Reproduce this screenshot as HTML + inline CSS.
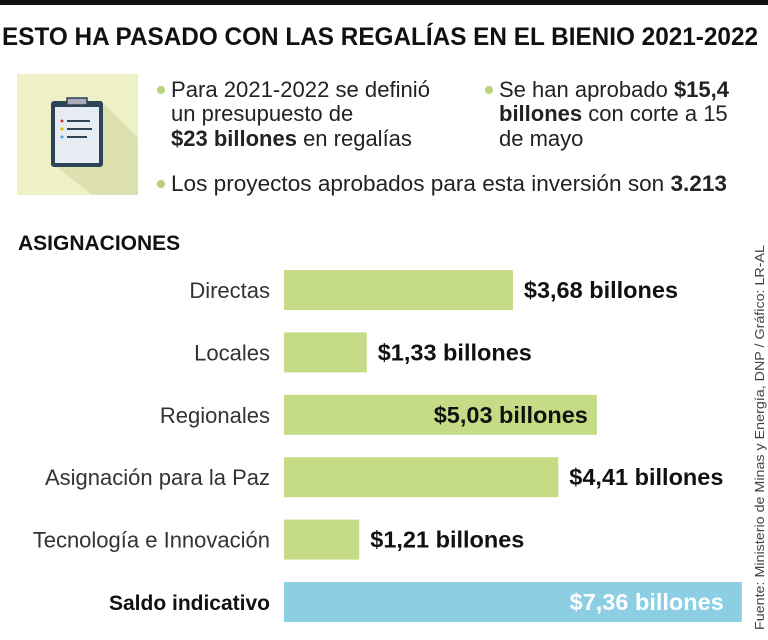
<!DOCTYPE html>
<html><head><meta charset="utf-8"><style>
html,body{margin:0;padding:0;background:#fff;width:768px;height:640px;overflow:hidden}
svg{display:block;font-family:"Liberation Sans",sans-serif}
</style></head><body>
<svg id="chart" width="768" height="640" viewBox="0 0 768 640">
<rect x="0" y="0" width="768" height="5" fill="#111"/>
<text x="2" y="45" font-size="25" font-weight="bold" fill="#111" textLength="756" lengthAdjust="spacingAndGlyphs">ESTO HA PASADO CON LAS REGALÍAS EN EL BIENIO 2021-2022</text>
<g>
<rect x="17" y="74" width="121" height="121" fill="#eef0c8"/>
<polygon points="100,100 138,138 138,195 92,195 55,165" fill="#dde1b0"/>
<rect x="51" y="101" width="52" height="66" rx="3" fill="#2c4358"/>
<rect x="55" y="107" width="44" height="56" fill="#e6ecf2"/>
<rect x="67" y="98" width="20" height="7" fill="#aab" stroke="#2c4358" stroke-width="1.5"/>
<circle cx="62" cy="121" r="1.5" fill="#d33"/><rect x="67" y="120" width="23" height="2" fill="#2c4358"/>
<circle cx="62" cy="129" r="1.5" fill="#e8b800"/><rect x="67" y="128" width="25" height="2" fill="#2c4358"/>
<circle cx="62" cy="137" r="1.5" fill="#5a9ad0"/><rect x="67" y="136" width="20" height="2" fill="#2c4358"/>
</g>
<g font-size="22" fill="#222">
<circle cx="161" cy="90" r="4" fill="#b6d27a"/>
<text x="171" y="97" textLength="259" lengthAdjust="spacingAndGlyphs">Para 2021-2022 se definió</text>
<text x="171" y="121">un presupuesto de</text>
<text x="171" y="146"><tspan font-weight="bold">$23 billones</tspan> en regalías</text>
<circle cx="489" cy="90" r="4" fill="#b6d27a"/>
<text x="499" y="97">Se han aprobado <tspan font-weight="bold">$15,4</tspan></text>
<text x="499" y="121"><tspan font-weight="bold">billones</tspan> con corte a 15</text>
<text x="499" y="146">de mayo</text>
<circle cx="161" cy="184" r="4" fill="#b6d27a"/>
<text x="171" y="191" textLength="556" lengthAdjust="spacingAndGlyphs">Los proyectos aprobados para esta inversión son <tspan font-weight="bold">3.213</tspan></text>
</g>
<text x="18" y="250" font-size="21" font-weight="bold" fill="#111">ASIGNACIONES</text>
<g id="bars"></g>
<text transform="translate(764,630) rotate(-90)" font-size="13" fill="#444" textLength="385" lengthAdjust="spacingAndGlyphs">Fuente: Ministerio de Minas y Energía, DNP / Gráfico: LR-AL</text>
</svg>
<script>
const categories = ["Directas","Locales","Regionales","Asignación para la Paz","Tecnología e Innovación","Saldo indicativo"];
const values = [3.68,1.33,5.03,4.41,1.21,7.36];
const valueLabels = ["$3,68 billones","$1,33 billones","$5,03 billones","$4,41 billones","$1,21 billones","$7,36 billones"];
const NS="http://www.w3.org/2000/svg";
const x0=284, pxPerUnit=62.2, y0=290, step=62.4, bh=40;
const xScale=v=>x0+v*pxPerUnit;
const yScale=i=>y0+i*step;
const g=document.getElementById('bars');
function mk(tag,attrs){const e=document.createElementNS(NS,tag);for(const k in attrs)e.setAttribute(k,attrs[k]);return e;}
categories.forEach((c,i)=>{
  const last=i===categories.length-1;
  const cy=yScale(i);
  const lab=mk('text',{x:270,y:cy+8,'text-anchor':'end','font-size':last?21:22,fill:last?'#111':'#333','font-weight':last?'bold':'normal'});
  
  
  lab.textContent=c;g.appendChild(lab);
  const xe=xScale(values[i]);
  const r=mk('rect',{x:x0,y:cy-bh/2,width:xe-x0,height:bh,fill:last?'#8ccfe4':'#c5db86'});
  
  
  g.appendChild(r);
  const inside=values[i]>=5;
  const t=mk('text',{x:inside?xe-(last?18:9):xe+11,y:cy+8,'text-anchor':inside?'end':'start','font-size':23.5,'font-weight':'bold',fill:last?'#fff':'#111'});
  
  
  t.textContent=valueLabels[i];g.appendChild(t);
});
</script>
</body></html>
